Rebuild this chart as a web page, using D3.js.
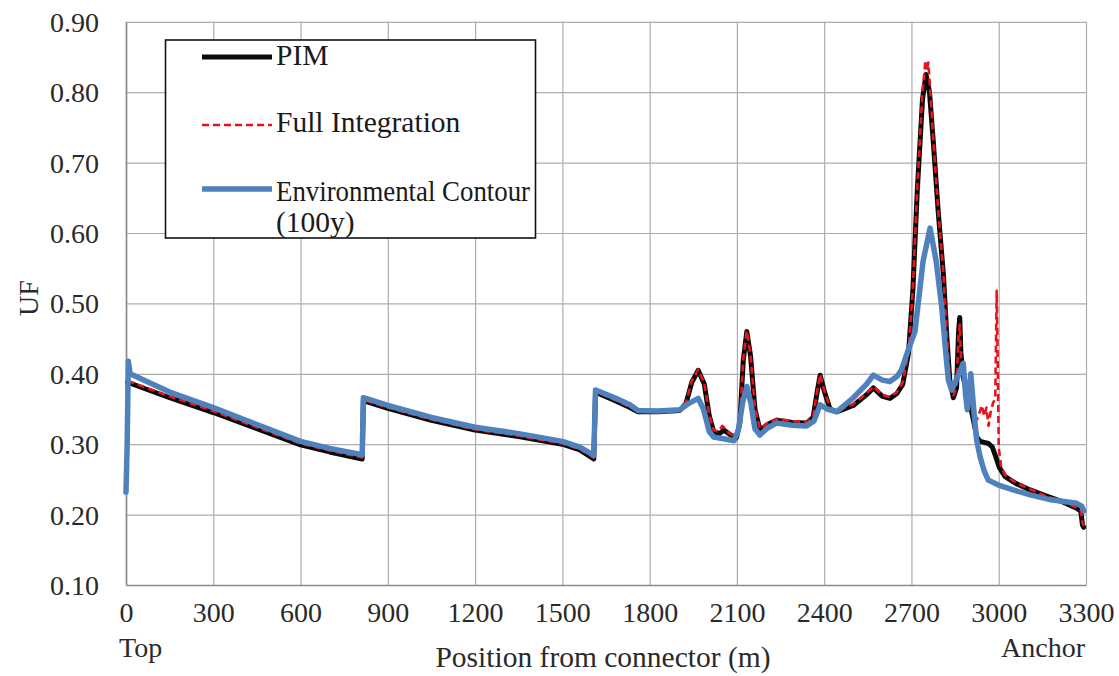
<!DOCTYPE html>
<html>
<head>
<meta charset="utf-8">
<script src="https://cdn.jsdelivr.net/npm/d3@7/dist/d3.min.js"></script>
<style>
  html, body { margin: 0; padding: 0; background: #fff; }
  svg { display: block; font-family: "Liberation Serif", "Times New Roman", serif; }
</style>
</head>
<body>
<svg id="chart" width="1119" height="676"></svg>
<script>
// Utilization factor (UF) along the mooring line, position measured from the top connector.
const xTicks = [0, 300, 600, 900, 1200, 1500, 1800, 2100, 2400, 2700, 3000, 3300];
const yTicks = [0.1, 0.2, 0.3, 0.4, 0.5, 0.6, 0.7, 0.8, 0.9];

const seriesNames = ["PIM", "Full Integration", "Environmental Contour", "(100y)"];

// [position (m), UF]
const pim = [
  [5,0.388],[150,0.366],[300,0.345],[450,0.322],[600,0.299],[700,0.289],[812,0.279],
  [816,0.362],[900,0.351],[1050,0.334],[1200,0.320],[1350,0.311],[1500,0.300],[1560,0.292],[1608,0.279],
  [1614,0.374],[1680,0.362],[1732,0.352],[1760,0.346],[1830,0.346],[1904,0.348],[1925,0.358],[1945,0.388],
  [1967,0.405],[1988,0.385],[2005,0.340],[2020,0.318],[2040,0.315],[2055,0.320],[2075,0.314],[2098,0.309],
  [2110,0.330],[2122,0.420],[2134,0.460],[2147,0.425],[2162,0.350],[2179,0.320],[2205,0.328],[2236,0.334],
  [2290,0.331],[2340,0.330],[2362,0.338],[2375,0.372],[2386,0.398],[2400,0.376],[2420,0.350],[2443,0.346],
  [2500,0.355],[2545,0.370],[2569,0.380],[2600,0.368],[2626,0.365],[2650,0.372],[2670,0.385],[2690,0.430],
  [2705,0.520],[2720,0.660],[2738,0.790],[2750,0.825],[2762,0.800],[2775,0.730],[2792,0.630],[2810,0.540],
  [2822,0.450],[2832,0.390],[2844,0.366],[2855,0.380],[2862,0.460],[2866,0.480],[2870,0.430],[2878,0.395],
  [2893,0.370],[2910,0.340],[2925,0.310],[2936,0.304],[2965,0.301],[2978,0.296],[2990,0.282],[3002,0.267],
  [3022,0.254],[3060,0.244],[3108,0.235],[3160,0.227],[3220,0.218],[3268,0.209],[3282,0.205],[3288,0.185],[3292,0.182]
];

const fullIntegration = [
  [5,0.390],[150,0.368],[300,0.347],[450,0.324],[600,0.301],[700,0.291],[812,0.281],
  [816,0.363],[900,0.352],[1050,0.335],[1200,0.321],[1350,0.312],[1500,0.301],[1560,0.293],[1608,0.281],
  [1614,0.375],[1680,0.363],[1732,0.353],[1760,0.348],[1830,0.348],[1904,0.349],[1925,0.360],[1945,0.390],
  [1967,0.406],[1988,0.386],[2005,0.342],[2020,0.320],[2035,0.318],[2050,0.326],[2062,0.322],[2075,0.315],
  [2098,0.310],[2110,0.332],[2122,0.422],[2134,0.461],[2147,0.426],[2162,0.352],[2179,0.322],[2205,0.330],
  [2236,0.336],[2290,0.333],[2340,0.331],[2362,0.339],[2375,0.373],[2386,0.399],[2400,0.377],[2420,0.352],
  [2443,0.347],[2500,0.357],[2545,0.372],[2569,0.382],[2600,0.370],[2626,0.367],[2650,0.374],[2670,0.388],
  [2690,0.432],[2705,0.522],[2720,0.664],[2738,0.800],[2748,0.845],[2752,0.830],[2758,0.842],[2764,0.805],
  [2775,0.733],[2792,0.632],[2810,0.542],[2822,0.452],[2832,0.392],[2844,0.368],[2855,0.382],[2862,0.455],
  [2866,0.470],[2870,0.425],[2880,0.392],[2895,0.372],[2912,0.350],[2925,0.335],[2934,0.345],[2942,0.355],
  [2950,0.340],[2958,0.352],[2965,0.326],[2972,0.345],[2980,0.358],[2988,0.365],[2993,0.518],[2997,0.400],
  [3000,0.296],[3008,0.268],[3022,0.256],[3060,0.245],[3108,0.236],[3160,0.227],[3220,0.218],[3268,0.210],
  [3282,0.206],[3288,0.188],[3292,0.184]
];

const envContour = [
  [0,0.232],[4,0.300],[8,0.418],[14,0.400],[40,0.395],[150,0.374],[300,0.352],[450,0.328],[600,0.304],
  [700,0.294],[812,0.285],
  [816,0.366],[900,0.355],[1050,0.338],[1200,0.324],[1350,0.315],[1500,0.304],[1560,0.296],[1608,0.284],
  [1614,0.377],[1680,0.366],[1732,0.356],[1760,0.348],[1830,0.347],[1904,0.349],[1935,0.358],[1967,0.365],
  [1985,0.350],[2005,0.318],[2020,0.310],[2050,0.308],[2090,0.305],[2105,0.320],[2120,0.360],[2134,0.382],
  [2148,0.358],[2162,0.322],[2179,0.313],[2205,0.323],[2236,0.330],[2290,0.327],[2340,0.326],[2365,0.333],
  [2386,0.356],[2410,0.350],[2443,0.346],[2500,0.366],[2545,0.385],[2569,0.398],[2600,0.391],[2626,0.389],
  [2650,0.396],[2665,0.405],[2690,0.435],[2712,0.460],[2740,0.560],[2764,0.607],[2785,0.560],[2804,0.495],
  [2818,0.430],[2827,0.391],[2838,0.377],[2858,0.395],[2878,0.415],[2886,0.370],[2892,0.349],[2904,0.400],
  [2915,0.345],[2924,0.306],[2936,0.282],[2950,0.262],[2964,0.249],[2999,0.242],[3050,0.235],[3108,0.228],
  [3180,0.221],[3268,0.216],[3285,0.212],[3293,0.205]
];

const svg = d3.select("#chart");
const plotLeft = 126, plotRight = 1086, plotTop = 21.8, plotBottom = 585;

const x = d3.scaleLinear().domain([0, 3300]).range([plotLeft, plotRight]);
const y = d3.scaleLinear().domain([0.1, 0.9]).range([plotBottom, plotTop]);

// gridlines
const gridX = svg.append("g").attr("transform", `translate(0,${plotBottom})`)
  .call(d3.axisBottom(x).tickValues(xTicks).tickSize(-(plotBottom - plotTop)).tickFormat(""));
const gridY = svg.append("g").attr("transform", `translate(${plotLeft},0)`)
  .call(d3.axisLeft(y).tickValues(yTicks).tickSize(-(plotRight - plotLeft)).tickFormat(""));
[gridX, gridY].forEach(g => {
  g.select(".domain").remove();
  g.selectAll(".tick line").attr("stroke", "#adadad").attr("stroke-width", 1.2);
});

// axis lines and tick labels
const xAxis = svg.append("g").attr("transform", `translate(0,${plotBottom})`)
  .call(d3.axisBottom(x).tickValues(xTicks).tickSize(0).tickPadding(0).tickFormat(d3.format("d")));
const yAxis = svg.append("g").attr("transform", `translate(${plotLeft},0)`)
  .call(d3.axisLeft(y).tickValues(yTicks).tickSize(0).tickPadding(0).tickFormat(d3.format(".2f")));
[xAxis, yAxis].forEach(g => {
  g.select(".domain").attr("stroke", "#8a8a8a").attr("stroke-width", 1.6);
  g.selectAll(".tick text")
    .attr("font-family", "'Liberation Serif', serif")
    .attr("font-size", 28)
    .attr("fill", "#2a2a2a");
});
xAxis.selectAll(".tick text").attr("dy", null).attr("y", 37);
yAxis.selectAll(".tick text").attr("x", -27).attr("dy", "0.34em");

// series
const line = d3.line().x(d => x(d[0])).y(d => y(d[1])).curve(d3.curveLinear);
const plot = svg.append("g");
plot.append("path").datum(pim)
  .attr("d", line).attr("fill", "none").attr("stroke", "#0a0a0a")
  .attr("stroke-width", 5).attr("stroke-linejoin", "round").attr("stroke-linecap", "round");
plot.append("path").datum(fullIntegration)
  .attr("d", line).attr("fill", "none").attr("stroke", "#e8141c")
  .attr("stroke-width", 2.6).attr("stroke-dasharray", "7,4").attr("stroke-linejoin", "round");
plot.append("path").datum(envContour)
  .attr("d", line).attr("fill", "none").attr("stroke", "#4f81bd")
  .attr("stroke-width", 5.5).attr("stroke-linejoin", "round").attr("stroke-linecap", "round");

// axis titles
const txt = (s, px, py, opts = {}) => svg.append("text")
  .attr("x", px).attr("y", py)
  .attr("font-size", opts.size || 28)
  .attr("fill", "#2a2a2a")
  .attr("text-anchor", opts.anchor || "start")
  .text(s);

svg.append("text")
  .attr("transform", `translate(38,298) rotate(-90)`)
  .attr("text-anchor", "middle").attr("font-size", 28).attr("fill", "#2a2a2a")
  .text("UF");
txt("Position from connector (m)", 603, 667, { anchor: "middle", size: 29.5 });
txt("Top", 119, 657);
txt("Anchor", 1085, 657, { anchor: "end" });

// legend
const lg = svg.append("g");
lg.append("rect").attr("x", 165.5).attr("y", 40).attr("width", 370).attr("height", 198)
  .attr("fill", "#fff").attr("stroke", "#111").attr("stroke-width", 1.6);
const legendItems = [
  { name: seriesNames[0], color: "#0a0a0a", w: 5, dash: null, ly: 57, ty: 65, fit: null },
  { name: seriesNames[1], color: "#e8141c", w: 2.6, dash: "7,4", ly: 125, ty: 132, fit: null },
  { name: seriesNames[2], color: "#4f81bd", w: 5.5, dash: null, ly: 189, ty: 201, fit: 254 }
];
legendItems.forEach(it => {
  lg.append("line").attr("x1", 202).attr("x2", 272).attr("y1", it.ly).attr("y2", it.ly)
    .attr("stroke", it.color).attr("stroke-width", it.w)
    .attr("stroke-dasharray", it.dash);
  const t = lg.append("text").attr("x", 276).attr("y", it.ty).attr("font-size", 29.5)
    .attr("fill", "#1a1a1a").text(it.name);
  if (it.fit) t.attr("textLength", it.fit).attr("lengthAdjust", "spacingAndGlyphs");
});
lg.append("text").attr("x", 276).attr("y", 232).attr("font-size", 29.5)
  .attr("fill", "#1a1a1a").text(seriesNames[3]);
</script>
</body>
</html>
